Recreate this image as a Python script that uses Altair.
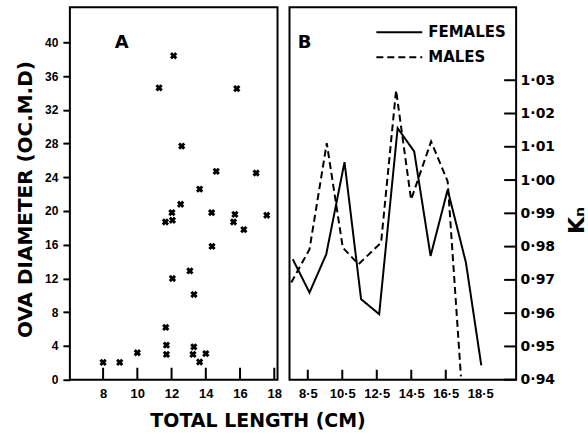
import altair as alt
import pandas as pd

# ---------------- data ----------------
# Panel A: total length (cm) vs ova diameter (oc.m.d)
a_length = [8.0, 8.97, 10.0, 11.66, 11.7, 11.7, 11.64, 12.02, 12.05, 12.53,
            12.05, 13.07, 13.31, 13.25, 13.3, 13.64, 14.0, 14.34, 14.36, 15.7,
            15.62, 16.22, 17.56, 12.12, 11.27, 15.81, 12.59, 14.61, 13.64, 16.94]
a_diameter = [2.05, 2.05, 3.2, 6.2, 4.1, 3.0, 18.7, 19.8, 18.9, 20.8,
              12.0, 12.9, 10.1, 3.0, 3.9, 2.1, 3.1, 19.8, 15.8, 19.6,
              18.7, 17.8, 19.5, 38.4, 34.6, 34.5, 27.7, 24.7, 22.6, 24.5]
a_xticks = [8, 10, 12, 14, 16, 18]
a_yticks = [0, 4, 8, 12, 16, 20, 24, 28, 32, 36, 40]

# Panel B: relative condition factor Kn
fem_length = [7.63, 8.60, 9.57, 10.63, 11.59, 12.64, 13.71, 14.67, 15.62, 16.61, 17.67, 18.56]
fem_kn = [0.9762, 0.9662, 0.9777, 1.0054, 0.9642, 0.9597, 1.0156, 1.0086, 0.9772, 0.9971, 0.9752, 0.9443]
male_length = [7.54, 8.60, 9.60, 10.53, 11.44, 12.75, 13.62, 14.49, 15.65, 16.61, 17.38]
male_kn = [0.9692, 0.9792, 1.0111, 0.9797, 0.9747, 0.9812, 1.0270, 0.9941, 1.0116, 0.9996, 0.9410]
b_xticks = [8.5, 10.5, 12.5, 14.5, 16.5, 18.5]
b_xtick_marks = [8.5, 10.5, 12.5, 14.5, 16.5]
b_yticks = [0.94, 0.95, 0.96, 0.97, 0.98, 0.99, 1.00, 1.01, 1.02, 1.03]
series = ["FEMALES", "MALES"]

FT = "DejaVu Sans"
FL = "Liberation Sans"
WA, HA = 208, 373
WB, HB = 227, 373

one = pd.DataFrame({"d": [0]})

# ---------------- panel A ----------------
dfA = pd.DataFrame({"length": a_length, "diameter": a_diameter})
xA = alt.Scale(domain=[6.06, 18.19], nice=False, zero=False)
yA = alt.Scale(domain=[0, 44.14], nice=False, zero=False)
axAx = alt.Axis(values=a_xticks, ticks=False, tickSize=0, labelPadding=8,
                labelFontSize=13, labelFont=FL, labelFontWeight="bold",
                title="TOTAL LENGTH (CM)", titleX=188, titleY=41,
                titleAlign="center", titleBaseline="middle",
                titleFontSize=19, titleFont=FT, titleFontWeight="bold")
axAy = alt.Axis(values=a_yticks, tickSize=7, tickWidth=2, tickColor="black",
                labelPadding=5, labelFontSize=12, labelFont=FL, labelFontWeight="bold",
                title="OVA DIAMETER (OC.M.D)", titleX=-44, titleY=192, titleAngle=270,
                titleAlign="center", titleBaseline="middle", titleFontSize=20,
                titleFont=FT, titleFontWeight="bold")

pointsA = alt.Chart(dfA).mark_point(shape="cross", angle=45, filled=True, size=55,
                                     color="black", opacity=1).encode(
    x=alt.X("length:Q", scale=xA, axis=axAx),
    y=alt.Y("diameter:Q", scale=yA, axis=axAy),
)
ticksA = alt.Chart(pd.DataFrame({"length": a_xticks})).mark_rule(
    color="black", strokeWidth=2).encode(
    x=alt.X("length:Q", scale=xA, axis=axAx),
    y=alt.value(HA - 12), y2=alt.value(HA),
)
labelA = alt.Chart(one).mark_text(fontSize=18, fontWeight="bold", font=FT).encode(
    x=alt.value(52), y=alt.value(36), text=alt.value("A"))

chartA = alt.layer(pointsA, ticksA, labelA).properties(width=WA, height=HA)

# ---------------- panel B ----------------
dfB = pd.DataFrame({
    "length": fem_length + male_length,
    "kn": fem_kn + male_kn,
    "sex": [series[0]] * len(fem_length) + [series[1]] * len(male_length),
})
xB = alt.Scale(domain=[7.44, 20.58], nice=False, zero=False)
yB = alt.Scale(domain=[0.94, 1.0519], nice=False, zero=False)
axBx = alt.Axis(values=b_xticks, ticks=False, tickSize=0, labelPadding=8,
                labelFontSize=13, labelFont=FL, labelFontWeight="bold",
                labelExpr="replace(format(datum.value, '.1f'), '.', '·')", title=None)
axBy = alt.Axis(orient="right", values=b_yticks, ticks=False, tickSize=0, labelPadding=4,
                labelFontSize=14, labelFont=FT, labelFontWeight="bold",
                labelExpr="replace(format(datum.value, '.2f'), '.', '·')",
                title="Kₙ", titleAngle=270, titleX=60, titleY=213,
                titleAlign="center", titleBaseline="middle", titleFontSize=22,
                titleFont=FT, titleFontWeight="bold")

linesB = alt.Chart(dfB).mark_line(color="black", strokeWidth=2).encode(
    x=alt.X("length:Q", scale=xB, axis=axBx),
    y=alt.Y("kn:Q", scale=yB, axis=axBy),
    strokeDash=alt.StrokeDash("sex:N", scale=alt.Scale(domain=series, range=[[1, 0], [7, 4]]),
                              legend=None),
)
xticksB = alt.Chart(pd.DataFrame({"length": b_xtick_marks})).mark_rule(
    color="black", strokeWidth=2).encode(
    x=alt.X("length:Q", scale=xB, axis=axBx),
    y=alt.value(HB - 10), y2=alt.value(HB),
)
yticksB = alt.Chart(pd.DataFrame({"kn": b_yticks})).mark_rule(
    color="black", strokeWidth=2).encode(
    y=alt.Y("kn:Q", scale=yB, axis=axBy),
    x=alt.value(WB - 12), x2=alt.value(WB),
)
labelB = alt.Chart(one).mark_text(fontSize=18, fontWeight="bold", font=FT).encode(
    x=alt.value(15), y=alt.value(36), text=alt.value("B"))
legSolid = alt.Chart(one).mark_rule(color="black", strokeWidth=2).encode(
    x=alt.value(87), x2=alt.value(133), y=alt.value(25))
legDash = alt.Chart(one).mark_rule(color="black", strokeWidth=2, strokeDash=[7, 4]).encode(
    x=alt.value(87), x2=alt.value(133), y=alt.value(50))
legText1 = alt.Chart(one).mark_text(align="left", baseline="middle", fontSize=15,
                                    fontWeight="bold", font=FT).encode(
    x=alt.value(139), y=alt.value(25), text=alt.value(series[0]))
legText2 = alt.Chart(one).mark_text(align="left", baseline="middle", fontSize=15,
                                    fontWeight="bold", font=FT).encode(
    x=alt.value(139), y=alt.value(50), text=alt.value(series[1]))

chartB = alt.layer(linesB, xticksB, yticksB, labelB, legSolid, legDash,
                   legText1, legText2).properties(width=WB, height=HB)

chart = alt.hconcat(chartA, chartB, spacing=12, bounds="flush").properties(
    padding={"left": 14, "top": 6, "right": 0, "bottom": 0}
).configure_view(stroke="black", strokeWidth=2).configure_axis(
    domain=False, grid=False, labelColor="black", titleColor="black"
)

chart.save("out.html", embed_options={"renderer": "svg", "actions": False})
